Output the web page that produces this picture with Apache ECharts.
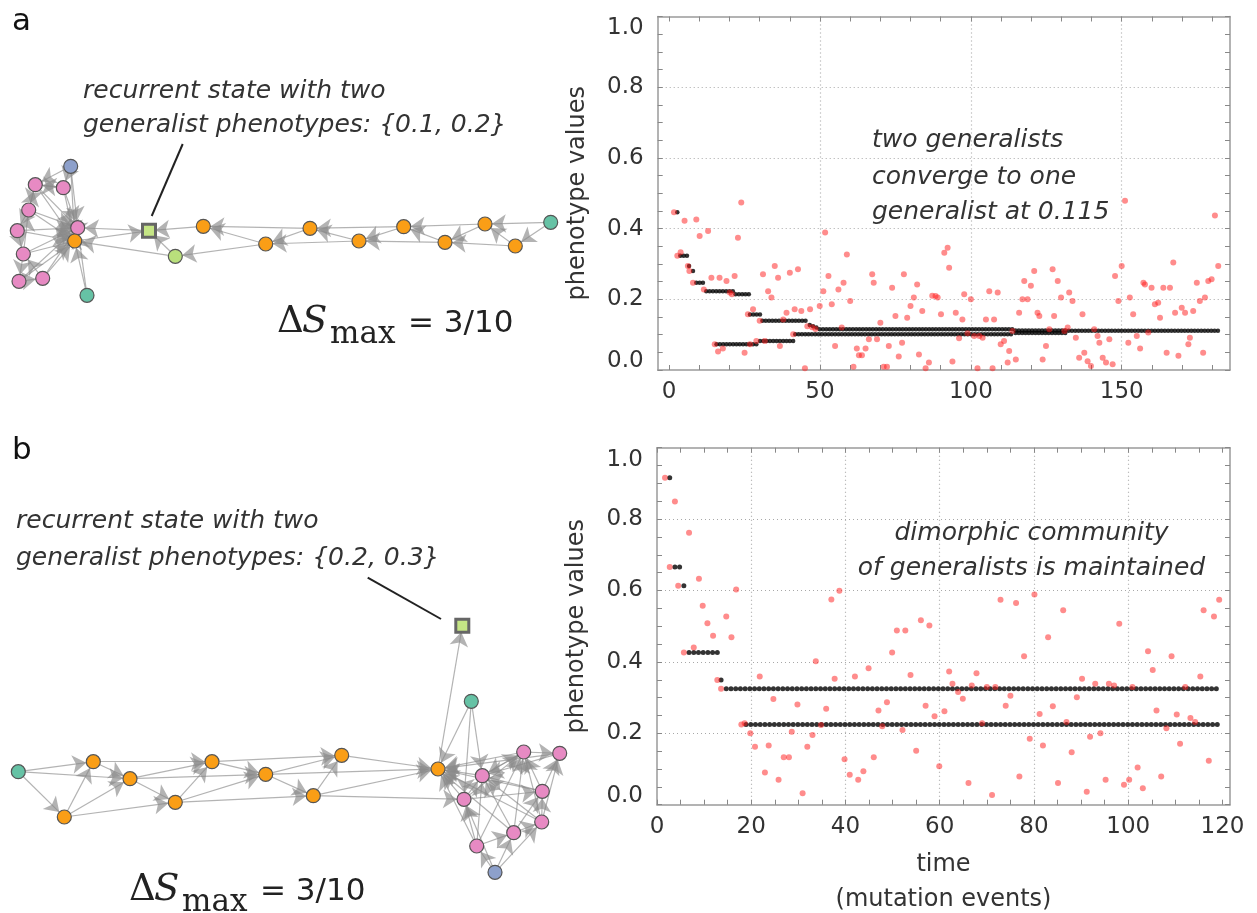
<!DOCTYPE html>
<html>
<head>
<meta charset="utf-8">
<script src="https://cdn.jsdelivr.net/npm/echarts@6/dist/echarts.min.js"></script>
<style>
html, body { margin: 0; padding: 0; background: #fff; }
#main { width: 1257px; height: 913px; }
</style>
</head>
<body>
<div id="main"></div>
<script>
// ---------------- data ----------------
// tick marks / labels / grid lines
var topTicksX = [0, 10, 20, 30, 40, 50, 60, 70, 80, 90, 100, 110, 120, 130, 140, 150, 160, 170, 180];
var topLabelsX = [0, 50, 100, 150];
var topGridX = [50, 100, 150];
var botTicksX = [0, 5, 10, 15, 20, 25, 30, 35, 40, 45, 50, 55, 60, 65, 70, 75, 80, 85, 90, 95, 100, 105, 110, 115, 120];
var botLabelsX = [0, 20, 40, 60, 80, 100, 120];
var botGridX = [20, 40, 60, 80, 100];
var ticksY = [0, 0.05, 0.1, 0.15, 0.2, 0.25, 0.3, 0.35, 0.4, 0.45, 0.5, 0.55, 0.6, 0.65, 0.7, 0.75, 0.8, 0.85, 0.9, 0.95, 1];
var labelsY = [0, 0.2, 0.4, 0.6, 0.8, 1];
var gridY = [0.2, 0.4, 0.6, 0.8];

// panel a: mutant phenotypes [time, value]
var mutantsA = [[1.6,0.446],[2.7,0.323],[3.8,0.333],[5.1,0.422],[6.2,0.294],[6.7,0.28],[7.9,0.247],[9.0,0.426],[10.1,0.379],[11.5,0.228],
  [12.9,0.393],[14.0,0.261],[15.1,0.073],[16.2,0.052],[16.7,0.261],[17.8,0.061],[19.0,0.252],[20.1,0.219],[20.8,0.214],[21.7,0.266],
  [22.8,0.374],[23.9,0.474],[25.0,0.049],[26.1,0.158],[26.8,0.073],[27.8,0.172],[28.9,0.082],[30.0,0.139],[31.1,0.271],[31.7,0.082],
  [32.8,0.223],[33.9,0.205],[35.0,0.294],[36.1,0.261],[36.7,0.068],[37.8,0.143],[38.9,0.162],[40.0,0.275],[41.1,0.101],[41.6,0.172],
  [42.7,0.285],[43.8,0.167],[45.0,0.005],[45.8,0.124],[46.7,0.172],[47.4,0.121],[48.5,0.116],[49.9,0.181],[51.1,0.223],[51.7,0.389],
  [52.8,0.266],[53.9,0.186],[55.0,0.068],[56.1,0.228],[57.2,0.12],[57.8,0.247],[58.9,0.327],[60.0,0.195],[61.1,0.009],[62.2,0.061],
  [62.9,0.042],[63.9,0.042],[65.1,0.061],[66.2,0.087],[67.3,0.271],[67.8,0.247],[68.9,0.087],[70.0,0.134],[71.1,0.009],[72.2,0.009],
  [72.8,0.068],[73.9,0.233],[75.0,0.153],[76.1,0.038],[77.2,0.077],[77.8,0.271],[78.9,0.148],[80.0,0.181],[81.1,0.205],[82.2,0.242],
  [82.8,0.044],[83.9,0.167],[85.0,0.005],[86.1,0.021],[87.2,0.21],[88.3,0.209],[89.0,0.205],[90.1,0.158],[91.2,0.332],[92.3,0.346],
  [92.8,0.289],[93.9,0.024],[95.0,0.162],[96.1,0.09],[97.2,0.143],[97.8,0.214],[98.9,0.104],[100.0,0.2],[101.1,0.096],[102.2,0.005],
  [102.8,0.096],[103.9,0.091],[105.0,0.143],[106.1,0.223],[107.2,0.005],[107.7,0.143],[108.9,0.219],[109.9,0.073],[111.0,0.082],[112.2,0.021],
  [112.7,0.054],[113.8,0.11],[114.9,0.03],[116.0,0.162],[117.1,0.2],[117.7,0.252],[118.8,0.2],[119.9,0.238],[121.0,0.28],[122.1,0.162],
  [122.7,0.153],[123.8,0.03],[124.9,0.068],[126.0,0.115],[127.1,0.285],[127.6,0.153],[128.8,0.252],[129.9,0.205],[131.0,0.11],[132.1,0.12],
  [132.6,0.219],[133.7,0.195],[134.8,0.091],[135.9,0.035],[137.0,0.158],[137.6,0.049],[138.7,0.025],[139.8,0.011],[140.9,0.115],[142.0,0.096],
  [142.6,0.077],[143.7,0.035],[144.8,0.021],[145.9,0.087],[147.0,0.016],[147.8,0.266],[148.9,0.195],[150.0,0.294],[151.1,0.479],[152.2,0.077],
  [152.7,0.205],[153.8,0.158],[155.0,0.096],[156.1,0.061],[157.2,0.247],[157.7,0.242],[158.8,0.106],[159.9,0.233],[161.0,0.186],[162.1,0.19],
  [162.7,0.148],[163.8,0.233],[164.9,0.049],[166.0,0.233],[167.1,0.304],[167.7,0.162],[168.8,0.04],[169.9,0.176],[171.0,0.162],[172.1,0.073],
  [172.6,0.091],[173.7,0.167],[174.9,0.247],[175.9,0.195],[177.0,0.049],[177.6,0.205],[178.7,0.252],[179.8,0.257],[180.9,0.437],[182.0,0.294]];

// panel a: resident plateaus [first time, number of dots, value]
var residentsA = [[2.7,1,0.446],[3.7,3,0.323],[6.6,1,0.294],[7.9,1,0.28],[9.0,3,0.247],[12.3,9,0.223],[22.0,5,0.214],
  [26.8,4,0.157],[30.9,14,0.139],[46.6,1,0.127],[47.7,1,0.124],[48.8,1,0.12],[49.9,59,0.115],[114.8,16,0.112],[132.4,46,0.111],
  [15.7,13,0.073],[30.1,11,0.082],[41.8,66,0.101],[114.8,16,0.105]];
var dotStepA = 1.1;

// panel b: mutant phenotypes [time, value]
var mutantsB = [[1.7,0.916],[2.7,0.666],[3.8,0.849],[4.5,0.613],[5.7,0.426],[6.8,0.762],[7.8,0.44],[8.9,0.633],[9.7,0.557],[10.7,0.508],
  [11.9,0.473],[12.8,0.349],[13.6,0.325],[14.7,0.527],[15.8,0.469],[16.8,0.603],[17.9,0.225],[18.6,0.228],[19.8,0.2],[20.8,0.162],
  [21.8,0.359],[22.9,0.09],[23.7,0.166],[24.7,0.296],[25.8,0.07],[26.9,0.133],[28.0,0.133],[28.6,0.204],[29.8,0.281],[30.9,0.032],
  [31.9,0.162],[33.0,0.195],[33.7,0.402],[34.8,0.223],[35.9,0.269],[37.0,0.575],[37.7,0.353],[38.7,0.599],[39.8,0.127],[40.9,0.084],
  [42.0,0.359],[42.7,0.07],[43.8,0.094],[44.9,0.382],[46.0,0.133],[47.0,0.264],[47.8,0.22],[48.8,0.287],[49.9,0.426],[50.9,0.488],
  [52.1,0.209],[52.7,0.488],[53.8,0.363],[55.0,0.151],[56.0,0.517],[57.0,0.277],[57.8,0.502],[58.9,0.248],[59.9,0.108],[61.0,0.262],
  [62.0,0.373],[62.7,0.339],[63.9,0.316],[64.9,0.297],[66.1,0.061],[66.8,0.334],[67.8,0.368],[69.0,0.228],[70.0,0.33],[71.1,0.027],
  [71.8,0.33],[72.9,0.574],[74.0,0.277],[75.0,0.305],[76.2,0.565],[76.9,0.079],[77.9,0.416],[79.1,0.185],[80.1,0.589],[81.2,0.254],
  [81.9,0.166],[83.0,0.469],[84.0,0.276],[85.1,0.061],[86.2,0.545],[86.9,0.232],[88.0,0.147],[89.1,0.301],[90.2,0.353],[91.2,0.036],
  [91.9,0.19],[93.0,0.339],[94.1,0.2],[95.2,0.07],[95.9,0.339],[97.0,0.334],[98.1,0.507],[99.1,0.056],[100.2,0.07],[100.9,0.33],
  [102.0,0.104],[103.1,0.046],[104.2,0.43],[105.2,0.377],[106.0,0.264],[107.0,0.079],[108.1,0.214],[109.2,0.416],[110.3,0.253],[111.0,0.171],
  [112.1,0.33],[113.2,0.243],[114.2,0.232],[115.3,0.359],[116.0,0.545],[117.1,0.123],[118.2,0.527],[119.3,0.574]];

// panel b: resident plateaus [first time, number of dots, value]
var residentsB = [[2.7,1,0.916],[3.8,2,0.666],[5.7,1,0.613],[6.8,7,0.426],[13.6,1,0.349],[14.7,105,0.325],[18.9,101,0.225]];
var dotStepB = 1;

// network a: nodes [x, y, kind] in page units, edges [from, to]
var nodesA = [[70.7,166.3,'blue'],[35.3,184.7,'pink'],[63.3,187.7,'pink'],[28.7,210,'pink'],[17.3,230.7,'pink'],
  [77.7,227.7,'pink'],[74.7,241,'orange'],[23.3,254,'pink'],[19,281.3,'pink'],[42.7,278.3,'pink'],[87,295.3,'teal'],
  [149,230.7,'state'],[175.3,256.3,'lime'],[203.3,226.3,'orange'],[265.7,244,'orange'],[310,228.3,'orange'],
  [359,241,'orange'],[403.7,226.7,'orange'],[445,242.3,'orange'],[485,224,'orange'],[515.3,246,'orange'],[550.7,222.3,'teal']];
var edgesA = [[21,19],[21,20],[20,19],[20,18],[19,18],[19,17],[18,17],[18,16],[17,16],[17,15],[16,15],[16,14],[15,14],
  [15,13],[14,13],[14,12],[13,11],[12,11],[12,6],[6,11],[11,5],
  [0,1],[0,2],[0,5],[0,6],[1,5],[1,6],[1,3],[2,5],[2,6],[2,1],[3,5],[3,6],[3,4],[4,5],[4,6],[4,7],[7,5],[7,6],[7,8],
  [8,5],[8,6],[8,9],[9,5],[9,6],[9,7],[10,6],[10,5],[5,6],[6,5],[3,1],[7,3],[1,2]];

// network b
var nodesB = [[18.3,771.7,'teal'],[93.3,761.7,'orange'],[130,778.7,'orange'],[64.3,817,'orange'],[175.3,802.3,'orange'],
  [212,761.7,'orange'],[265.7,774.3,'orange'],[341.7,755.3,'orange'],[313.3,795.7,'orange'],[438,769,'orange'],
  [462.3,625.7,'state'],[471.3,701.3,'teal'],[523.7,752,'pink'],[559.7,753.3,'pink'],[482.3,775.7,'pink'],
  [542.3,791.3,'pink'],[464,799.3,'pink'],[541.7,822,'pink'],[513.7,832.7,'pink'],[476.7,846,'pink'],[495,872.3,'blue']];
var edgesB = [[0,1],[0,3],[0,2],[3,1],[3,2],[3,4],[1,2],[1,5],[2,4],[2,5],[2,6],[4,5],[4,6],[4,8],[5,6],[5,7],[6,8],
  [6,7],[8,7],[8,9],[7,9],[6,9],[8,16],[9,10],[11,9],[11,14],[11,16],
  [12,9],[13,9],[14,9],[15,9],[16,9],[17,9],[18,9],[19,9],[12,13],[15,13],[17,15],[18,17],[19,16],[16,14],[18,15],
  [19,18],[17,12],[15,12],[13,14],[12,14],[16,12],[18,14],[19,14],[17,14],[15,14],[20,19],[20,18],[20,17],[20,16],
  [14,12],[17,13],[18,12],[16,15],[19,12]];

// ---------------- helpers ----------------
var kindColor = {
    pink: '#e78ac3', orange: '#fa9e16', teal: '#66c2a5',
    blue: '#8da0cb', lime: '#b9e07c', state: '#c5e585'
};
var FONT = 'DejaVu Sans';
var TXT = '#333';
var FRAME = '#9a9a9a';
var GRIDC = '#a8a8a8';

function expandRuns(runs, step) {
    var out = [];
    runs.forEach(function (r) {
        for (var k = 0; k < r[1]; k++) {
            out.push([Math.round((r[0] + k * step) * 100) / 100, r[2]]);
        }
    });
    return out;
}

function graphNodes(nodes) {
    return nodes.map(function (n) {
        if (n[2] === 'state') {
            return {
                value: [n[0], n[1]], symbol: 'rect', symbolSize: 13,
                itemStyle: { color: kindColor.state, borderColor: '#666', borderWidth: 3 }
            };
        }
        return {
            value: [n[0], n[1]], symbol: 'circle', symbolSize: 14,
            itemStyle: { color: kindColor[n[2]], borderColor: '#555', borderWidth: 1.2 }
        };
    });
}

function graphLinks(edges) {
    return edges.map(function (e) { return { source: e[0], target: e[1] }; });
}

function yLabelFmt(v) {
    if (v === 0) return '{lo|0.0}';
    if (v === 1) return '{hi|1.0}';
    return '{n|' + v.toFixed(1) + '}';
}
var yRich = {
    n: { fontSize: 23, color: TXT, fontFamily: FONT },
    lo: { fontSize: 23, color: TXT, fontFamily: FONT, padding: [0, 0, 18, 0] },
    hi: { fontSize: 23, color: TXT, fontFamily: FONT, padding: [24, 0, 0, 0] }
};

function frameAxisX(gridIndex, min, max, ticks, opt) {
    var a = {
        type: 'value', gridIndex: gridIndex, min: min, max: max,
        axisLine: { show: true, onZero: false, lineStyle: { color: FRAME, width: 1.5 } },
        axisTick: { show: true, inside: true, length: 5, customValues: ticks, lineStyle: { color: '#888' } },
        axisLabel: { show: false },
        splitLine: { show: false }
    };
    for (var k in opt) a[k] = opt[k];
    return a;
}
function frameAxisY(gridIndex, opt) {
    var a = {
        type: 'value', gridIndex: gridIndex, min: 0, max: 1, interval: 0.2,
        axisLine: { show: true, onZero: false, lineStyle: { color: FRAME, width: 1.5 } },
        axisTick: { show: true, inside: true, length: 5, customValues: ticksY, lineStyle: { color: '#888' } },
        axisLabel: { show: false },
        splitLine: { show: false }
    };
    for (var k in opt) a[k] = opt[k];
    return a;
}
// invisible axis that only carries the dotted grid lines
function gridAxis(gridIndex, min, max, lines, pos) {
    return {
        type: 'value', gridIndex: gridIndex, min: min, max: max, position: pos,
        axisLine: { show: false }, axisLabel: { show: false },
        axisTick: { show: false, customValues: lines },
        splitLine: { show: true, lineStyle: { color: GRIDC, type: [1, 3], width: 1.2 } }
    };
}

var chart = echarts.init(document.getElementById('main'), null, { renderer: 'canvas' });

var option = {
    animation: false,
    backgroundColor: '#fff',
    grid: [
        { left: 0, top: 0, width: 1257, height: 913, show: false, outerBoundsMode: 'none', containLabel: false },
        { left: 657.7, top: 16.5, width: 572.3, height: 353.5, show: false, outerBoundsMode: 'none', containLabel: false },
        { left: 657, top: 447.7, width: 573, height: 357, show: false, outerBoundsMode: 'none', containLabel: false }
    ],
    xAxis: [
        { type: 'value', gridIndex: 0, min: 0, max: 1257, show: false },
        frameAxisX(1, -3.8, 185.9, topTicksX, {
            position: 'bottom',
            axisLabel: { show: true, customValues: topLabelsX, margin: 11, fontSize: 23, color: TXT, fontFamily: FONT }
        }),
        frameAxisX(1, -3.8, 185.9, topTicksX, { position: 'top' }),
        frameAxisX(2, 0, 121.6, botTicksX, {
            position: 'bottom',
            axisLabel: { show: true, customValues: botLabelsX, margin: 11, fontSize: 23, color: TXT, fontFamily: FONT },
            name: 'time\n(mutation events)', nameLocation: 'middle', nameGap: 43,
            nameTextStyle: { fontSize: 24, color: TXT, fontFamily: FONT, lineHeight: 35 }
        }),
        frameAxisX(2, 0, 121.6, botTicksX, { position: 'top' }),
        gridAxis(1, -3.8, 185.9, topGridX, 'bottom'),
        gridAxis(2, 0, 121.6, botGridX, 'bottom')
    ],
    yAxis: [
        { type: 'value', gridIndex: 0, min: 0, max: 913, inverse: true, show: false },
        frameAxisY(1, {
            position: 'left',
            axisLabel: { show: true, customValues: labelsY, margin: 14, formatter: yLabelFmt, rich: yRich },
            name: 'phenotype values', nameLocation: 'middle', nameGap: 68,
            nameTextStyle: { fontSize: 24, color: TXT, fontFamily: FONT }
        }),
        frameAxisY(1, { position: 'right' }),
        frameAxisY(2, {
            position: 'left',
            axisLabel: { show: true, customValues: labelsY, margin: 14, formatter: yLabelFmt, rich: yRich },
            name: 'phenotype values', nameLocation: 'middle', nameGap: 68,
            nameTextStyle: { fontSize: 24, color: TXT, fontFamily: FONT }
        }),
        frameAxisY(2, { position: 'right' }),
        gridAxis(1, 0, 1, gridY, 'left'),
        gridAxis(2, 0, 1, gridY, 'left')
    ],
    series: [
        {
            type: 'graph', coordinateSystem: 'cartesian2d', xAxisIndex: 0, yAxisIndex: 0,
            data: graphNodes(nodesA), links: graphLinks(edgesA),
            edgeSymbol: ['none', 'arrow'], edgeSymbolSize: [0, 14],
            lineStyle: { color: '#8a8a8a', width: 1.2, opacity: 0.65, curveness: 0 },
            label: { show: false }, emphasis: { disabled: true }, z: 3
        },
        {
            type: 'graph', coordinateSystem: 'cartesian2d', xAxisIndex: 0, yAxisIndex: 0,
            data: graphNodes(nodesB), links: graphLinks(edgesB),
            edgeSymbol: ['none', 'arrow'], edgeSymbolSize: [0, 14],
            lineStyle: { color: '#8a8a8a', width: 1.2, opacity: 0.65, curveness: 0 },
            label: { show: false }, emphasis: { disabled: true }, z: 3
        },
        {
            type: 'scatter', xAxisIndex: 1, yAxisIndex: 1, clip: false,
            data: expandRuns(residentsA, dotStepA), symbolSize: 4.5,
            itemStyle: { color: '#000' }, emphasis: { disabled: true }, z: 3
        },
        {
            type: 'scatter', xAxisIndex: 1, yAxisIndex: 1, clip: false,
            data: mutantsA, symbolSize: 6,
            itemStyle: { color: '#ff1a1a', opacity: 0.5 }, emphasis: { disabled: true }, z: 4
        },
        {
            type: 'scatter', xAxisIndex: 3, yAxisIndex: 3, clip: false,
            data: expandRuns(residentsB, dotStepB), symbolSize: 5,
            itemStyle: { color: '#000' }, emphasis: { disabled: true }, z: 3
        },
        {
            type: 'scatter', xAxisIndex: 3, yAxisIndex: 3, clip: false,
            data: mutantsB, symbolSize: 6,
            itemStyle: { color: '#ff1a1a', opacity: 0.5 }, emphasis: { disabled: true }, z: 4
        }
    ],
    graphic: [
        // panel letters
        { type: 'text', x: 12, y: 22, style: { text: 'a', font: '31px "DejaVu Sans"', fill: '#111', align: 'left', verticalAlign: 'middle' } },
        { type: 'text', x: 12, y: 451, style: { text: 'b', font: '31px "DejaVu Sans"', fill: '#111', align: 'left', verticalAlign: 'middle' } },
        // network annotations
        { type: 'text', x: 83, y: 91, style: { text: 'recurrent state with two', font: 'italic 25px "DejaVu Sans"', fill: TXT, verticalAlign: 'middle' } },
        { type: 'text', x: 83, y: 125, style: { text: 'generalist phenotypes: {0.1, 0.2}', font: 'italic 25px "DejaVu Sans"', fill: TXT, verticalAlign: 'middle' } },
        { type: 'line', shape: { x1: 182.7, y1: 144, x2: 151.7, y2: 216 }, style: { stroke: '#222', lineWidth: 2 } },
        { type: 'text', x: 16, y: 521, style: { text: 'recurrent state with two', font: 'italic 25px "DejaVu Sans"', fill: TXT, verticalAlign: 'middle' } },
        { type: 'text', x: 16, y: 558, style: { text: 'generalist phenotypes: {0.2, 0.3}', font: 'italic 25px "DejaVu Sans"', fill: TXT, verticalAlign: 'middle' } },
        { type: 'line', shape: { x1: 367.7, y1: 577.7, x2: 441, y2: 619 }, style: { stroke: '#222', lineWidth: 2 } },
        // delta S max (a)
        { type: 'text', x: 277, y: 322, style: { text: '\u0394', font: '37px "DejaVu Serif"', fill: '#222', verticalAlign: 'middle' } },
        { type: 'text', x: 302, y: 322, style: { text: 'S', font: 'italic 37px "DejaVu Serif"', fill: '#222', verticalAlign: 'middle' } },
        { type: 'text', x: 330, y: 335, style: { text: 'max', font: '31px "DejaVu Serif"', fill: '#222', verticalAlign: 'middle' } },
        { type: 'text', x: 408, y: 324, style: { text: '= 3/10', font: '31px "DejaVu Sans"', fill: '#222', verticalAlign: 'middle' } },
        // delta S max (b)
        { type: 'text', x: 129, y: 890, style: { text: '\u0394', font: '37px "DejaVu Serif"', fill: '#222', verticalAlign: 'middle' } },
        { type: 'text', x: 154, y: 890, style: { text: 'S', font: 'italic 37px "DejaVu Serif"', fill: '#222', verticalAlign: 'middle' } },
        { type: 'text', x: 182, y: 903, style: { text: 'max', font: '31px "DejaVu Serif"', fill: '#222', verticalAlign: 'middle' } },
        { type: 'text', x: 260, y: 892, style: { text: '= 3/10', font: '31px "DejaVu Sans"', fill: '#222', verticalAlign: 'middle' } },
        // scatter annotations
        { type: 'text', x: 872, y: 140, z: 10, style: { text: 'two generalists', font: 'italic 25px "DejaVu Sans"', fill: TXT, verticalAlign: 'middle' } },
        { type: 'text', x: 872, y: 177, z: 10, style: { text: 'converge to one', font: 'italic 25px "DejaVu Sans"', fill: TXT, verticalAlign: 'middle' } },
        { type: 'text', x: 872, y: 212, z: 10, style: { text: 'generalist at 0.115', font: 'italic 25px "DejaVu Sans"', fill: TXT, verticalAlign: 'middle' } },
        { type: 'text', x: 1031.5, y: 533, z: 10, style: { text: 'dimorphic community', font: 'italic 25px "DejaVu Sans"', fill: TXT, align: 'center', verticalAlign: 'middle' } },
        { type: 'text', x: 1031.5, y: 568, z: 10, style: { text: 'of generalists is maintained', font: 'italic 25px "DejaVu Sans"', fill: TXT, align: 'center', verticalAlign: 'middle' } }
    ]
};

chart.setOption(option);
</script>
</body>
</html>
